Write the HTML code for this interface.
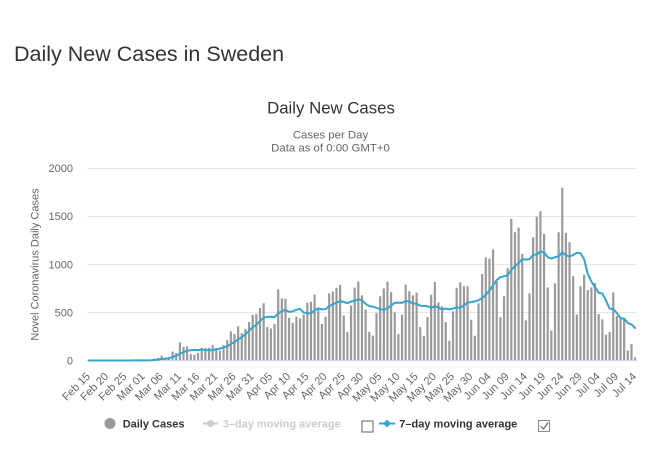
<!DOCTYPE html>
<html>
<head>
<meta charset="utf-8">
<style>
html,body{margin:0;padding:0;background:#fff;}
svg{display:block;font-family:"Liberation Sans",Arial,sans-serif;}
</style>
</head>
<body>
<svg width="660" height="451" viewBox="0 0 660 451" xmlns="http://www.w3.org/2000/svg">
<rect width="660" height="451" fill="#fff"/>
<text x="14" y="61" font-size="21.5" fill="#333">Daily New Cases in Sweden</text>
<text x="331" y="113.5" font-size="16.8" fill="#333" text-anchor="middle">Daily New Cases</text>
<text x="330.5" y="138.5" font-size="11.4" fill="#666" text-anchor="middle">Cases per Day</text>
<text x="330.5" y="151.5" font-size="11.4" fill="#666" text-anchor="middle">Data as of 0:00 GMT+0</text>

<!-- grid -->
<g stroke="#e6e6e6" stroke-width="1">
<line x1="87" y1="168.5" x2="637" y2="168.5"/>
<line x1="87" y1="216.5" x2="637" y2="216.5"/>
<line x1="87" y1="264.5" x2="637" y2="264.5"/>
<line x1="87" y1="312.5" x2="637" y2="312.5"/>
</g>
<!-- y labels -->
<g font-size="11" fill="#666" text-anchor="end">
<text x="73" y="172">2000</text>
<text x="73" y="220">1500</text>
<text x="73" y="268.5">1000</text>
<text x="73" y="316.5">500</text>
<text x="73" y="364.5">0</text>
</g>
<text transform="translate(38.5,264.5) rotate(-90)" font-size="11" fill="#666" text-anchor="middle">Novel Coronavirus Daily Cases</text>

<!-- bars -->
<g transform="translate(87.72,360.5) scale(3.642,-0.09625)">
<path fill="#9a9a9a" d="M11 0V1h.6V0zM12 0V5h.6V0zM13 0V1h.6V0zM14 0V2h.6V0zM16 0V2h.6V0zM17 0V8h.6V0zM18 0V20h.6V0zM19 0V27h.6V0zM20 0V49h.6V0zM21 0V25h.6V0zM22 0V35h.6V0zM23 0V94h.6V0zM24 0V78h.6V0zM25 0V187h.6V0zM26 0V142h.6V0zM27 0V145h.6V0zM28 0V66h.6V0zM29 0V60h.6V0zM30 0V78h.6V0zM31 0V130h.6V0zM32 0V130h.6V0zM33 0V133h.6V0zM34 0V160h.6V0zM35 0V130h.6V0zM36 0V104h.6V0zM37 0V160h.6V0zM38 0V212h.6V0zM39 0V302h.6V0zM40 0V275h.6V0zM41 0V355h.6V0zM42 0V285h.6V0zM43 0V330h.6V0zM44 0V400h.6V0zM45 0V475h.6V0zM46 0V483h.6V0zM47 0V545h.6V0zM48 0V595h.6V0zM49 0V349h.6V0zM50 0V332h.6V0zM51 0V380h.6V0zM52 0V740h.6V0zM53 0V646h.6V0zM54 0V642h.6V0zM55 0V443h.6V0zM56 0V391h.6V0zM57 0V454h.6V0zM58 0V436h.6V0zM59 0V478h.6V0zM60 0V600h.6V0zM61 0V611h.6V0zM62 0V684h.6V0zM63 0V530h.6V0zM64 0V380h.6V0zM65 0V454h.6V0zM66 0V698h.6V0zM67 0V715h.6V0zM68 0V754h.6V0zM69 0V785h.6V0zM70 0V468h.6V0zM71 0V297h.6V0zM72 0V572h.6V0zM73 0V757h.6V0zM74 0V820h.6V0zM75 0V677h.6V0zM76 0V530h.6V0zM77 0V297h.6V0zM78 0V258h.6V0zM79 0V492h.6V0zM80 0V667h.6V0zM81 0V750h.6V0zM82 0V820h.6V0zM83 0V710h.6V0zM84 0V500h.6V0zM85 0V274h.6V0zM86 0V476h.6V0zM87 0V788h.6V0zM88 0V719h.6V0zM89 0V677h.6V0zM90 0V705h.6V0zM91 0V347h.6V0zM92 0V257h.6V0zM93 0V451h.6V0zM94 0V684h.6V0zM95 0V816h.6V0zM96 0V604h.6V0zM97 0V562h.6V0zM98 0V399h.6V0zM99 0V205h.6V0zM100 0V510h.6V0zM101 0V753h.6V0zM102 0V812h.6V0zM103 0V771h.6V0zM104 0V771h.6V0zM105 0V424h.6V0zM106 0V257h.6V0zM107 0V594h.6V0zM108 0V899h.6V0zM109 0V1073h.6V0zM110 0V1059h.6V0zM111 0V1156h.6V0zM112 0V823h.6V0zM113 0V451h.6V0zM114 0V667h.6V0zM115 0V962h.6V0zM116 0V1472h.6V0zM117 0V1333h.6V0zM118 0V1380h.6V0zM119 0V1108h.6V0zM120 0V417h.6V0zM121 0V698h.6V0zM122 0V1281h.6V0zM123 0V1493h.6V0zM124 0V1552h.6V0zM125 0V1316h.6V0zM126 0V760h.6V0zM127 0V312h.6V0zM128 0V802h.6V0zM129 0V1333h.6V0zM130 0V1795h.6V0zM131 0V1326h.6V0zM132 0V1229h.6V0zM133 0V875h.6V0zM134 0V476h.6V0zM135 0V771h.6V0zM136 0V892h.6V0zM137 0V733h.6V0zM138 0V760h.6V0zM139 0V806h.6V0zM140 0V483h.6V0zM141 0V427h.6V0zM142 0V267h.6V0zM143 0V295h.6V0zM144 0V708h.6V0zM145 0V462h.6V0zM146 0V441h.6V0zM147 0V441h.6V0zM148 0V104h.6V0zM149 0V170h.6V0zM150 0V31h.6V0z"/>
</g>

<!-- x axis line -->
<line x1="87" y1="360.5" x2="637" y2="360.5" stroke="#ccd6eb" stroke-width="1"/>

<!-- 7-day moving average line -->
<g transform="translate(88.82,360.5) scale(3.642,-0.01375)">
<polyline fill="none" stroke="#35a5cf" stroke-width="2" stroke-linejoin="round" stroke-linecap="round" vector-effect="non-scaling-stroke" points="0,0 1,0 2,0 3,0 4,0 5,0 6,0 7,0 8,0 9,0 10,0 11,1 12,6 13,7 14,9 15,9 16,11 17,19 18,38 19,60 20,108 21,131 22,166 23,258 24,328 25,495 26,610 27,706 28,747 29,772 30,756 31,808 32,751 33,742 34,757 35,821 36,865 37,947 38,1029 39,1201 40,1343 41,1538 42,1693 43,1919 44,2159 45,2422 46,2603 47,2873 48,3113 49,3177 50,3179 51,3159 52,3424 53,3587 54,3684 55,3532 56,3574 57,3696 58,3752 59,3490 60,3444 61,3413 62,3654 63,3793 64,3719 65,3737 66,3957 67,4072 68,4215 69,4316 70,4254 71,4171 72,4289 73,4348 74,4453 75,4376 76,4121 77,3950 78,3911 79,3831 80,3741 81,3671 82,3814 83,3994 84,4197 85,4213 86,4197 87,4318 88,4287 89,4144 90,4139 91,3986 92,3969 93,3944 94,3840 95,3937 96,3864 97,3721 98,3773 99,3721 100,3780 101,3849 102,3845 103,4012 104,4221 105,4246 106,4298 107,4382 108,4528 109,4789 110,5077 111,5462 112,5861 113,6055 114,6128 115,6191 116,6590 117,6864 118,7088 119,7373 120,7339 121,7370 122,7689 123,7710 124,7929 125,7865 126,7517 127,7412 128,7516 129,7568 130,7870 131,7644 132,7557 133,7672 134,7836 135,7805 136,7364 137,6302 138,5736 139,5313 140,4921 141,4872 142,4368 143,3771 144,3746 145,3448 146,3083 147,3041 148,2718 149,2621 150,2357"/>
</g>

<!-- x labels -->
<g font-size="11" fill="#666" text-anchor="end">
<text transform="translate(90.8,377) rotate(-45)">Feb 15</text>
<text transform="translate(109.0,377) rotate(-45)">Feb 20</text>
<text transform="translate(127.2,377) rotate(-45)">Feb 25</text>
<text transform="translate(145.4,377) rotate(-45)">Mar 01</text>
<text transform="translate(163.6,377) rotate(-45)">Mar 06</text>
<text transform="translate(181.9,377) rotate(-45)">Mar 11</text>
<text transform="translate(200.1,377) rotate(-45)">Mar 16</text>
<text transform="translate(218.3,377) rotate(-45)">Mar 21</text>
<text transform="translate(236.5,377) rotate(-45)">Mar 26</text>
<text transform="translate(254.7,377) rotate(-45)">Mar 31</text>
<text transform="translate(272.9,377) rotate(-45)">Apr 05</text>
<text transform="translate(291.1,377) rotate(-45)">Apr 10</text>
<text transform="translate(309.3,377) rotate(-45)">Apr 15</text>
<text transform="translate(327.5,377) rotate(-45)">Apr 20</text>
<text transform="translate(345.7,377) rotate(-45)">Apr 25</text>
<text transform="translate(364.0,377) rotate(-45)">Apr 30</text>
<text transform="translate(382.2,377) rotate(-45)">May 05</text>
<text transform="translate(400.4,377) rotate(-45)">May 10</text>
<text transform="translate(418.6,377) rotate(-45)">May 15</text>
<text transform="translate(436.8,377) rotate(-45)">May 20</text>
<text transform="translate(455.0,377) rotate(-45)">May 25</text>
<text transform="translate(473.2,377) rotate(-45)">May 30</text>
<text transform="translate(491.4,377) rotate(-45)">Jun 04</text>
<text transform="translate(509.6,377) rotate(-45)">Jun 09</text>
<text transform="translate(527.8,377) rotate(-45)">Jun 14</text>
<text transform="translate(546.1,377) rotate(-45)">Jun 19</text>
<text transform="translate(564.3,377) rotate(-45)">Jun 24</text>
<text transform="translate(582.5,377) rotate(-45)">Jun 29</text>
<text transform="translate(600.7,377) rotate(-45)">Jul 04</text>
<text transform="translate(618.9,377) rotate(-45)">Jul 09</text>
<text transform="translate(637.1,377) rotate(-45)">Jul 14</text>
</g>

<!-- legend -->
<circle cx="110" cy="423.5" r="5.5" fill="#999"/>
<text x="122.7" y="427.5" font-size="11" font-weight="bold" fill="#333">Daily Cases</text>
<line x1="203" y1="423.5" x2="218" y2="423.5" stroke="#ccc" stroke-width="2"/>
<circle cx="210.5" cy="423.5" r="3.5" fill="#ccc"/>
<text x="222.7" y="427.5" font-size="11" font-weight="bold" fill="#ccc">3–day moving average</text>
<rect x="362" y="421" width="11" height="11" fill="#fff" stroke="#666" stroke-width="1"/>
<line x1="379" y1="423.5" x2="395" y2="423.5" stroke="#35a5cf" stroke-width="2"/>
<path d="M387 419.5L391 423.5L387 427.5L383 423.5Z" fill="#35a5cf"/>
<text x="399.3" y="427.5" font-size="11" font-weight="bold" fill="#333">7–day moving average</text>
<rect x="538.5" y="420.5" width="11" height="11" fill="#fff" stroke="#888" stroke-width="1"/>
<path d="M540.5 426L543.5 429L548 422.5" fill="none" stroke="#666" stroke-width="1.2"/>
</svg>
</body>
</html>
